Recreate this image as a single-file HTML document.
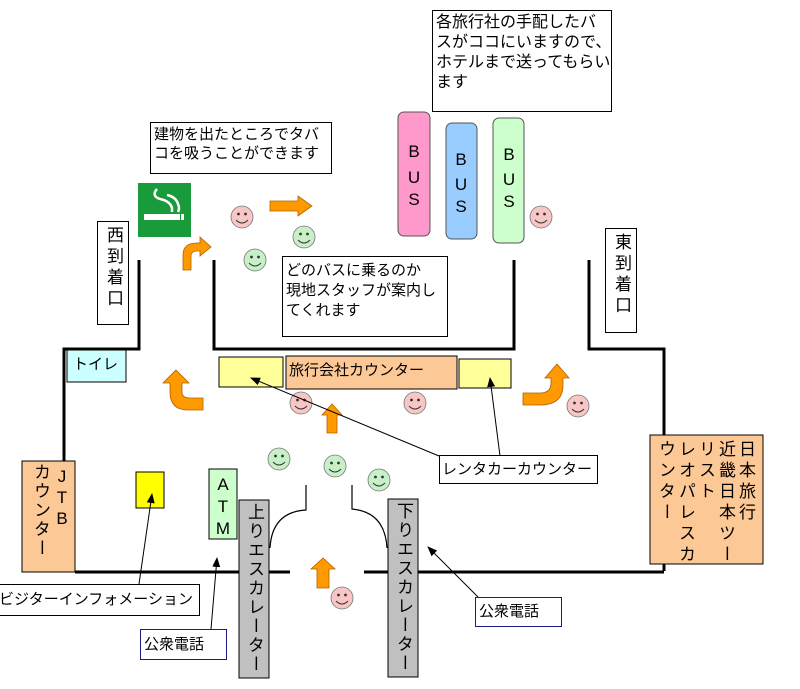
<!DOCTYPE html>
<html><head><meta charset="utf-8"><style>
html,body{margin:0;padding:0;background:#fff;}
#c{position:relative;width:800px;height:689px;overflow:hidden;font-family:"Liberation Sans","Noto Sans CJK JP",sans-serif;color:#000;}
.b{position:absolute;box-sizing:border-box;border:1px solid #000;}
.t{position:absolute;font-size:15px;line-height:20px;white-space:nowrap;}
.v{position:absolute;writing-mode:vertical-rl;font-size:17px;white-space:nowrap;}
svg{position:absolute;left:0;top:0;}
</style></head><body><div id="c">
<svg width="800" height="689" viewBox="0 0 800 689">
<defs><marker id="ah" markerWidth="10" markerHeight="8" refX="9" refY="4" orient="auto" markerUnits="userSpaceOnUse"><path d="M0,0 L10,4 L0,8 Z" fill="#000"/></marker></defs>
<g stroke="#000" stroke-width="3" fill="none">
<polyline points="139,260 139,349 64,349 64,462"/>
<polyline points="214,260 214,349 514,349 514,260"/>
<polyline points="589,260 589,349 664,349 664,571"/>
<line x1="75" y1="572" x2="290" y2="572"/>
<line x1="364" y1="572" x2="664" y2="572"/>
</g>
<g stroke="#000" stroke-width="1.2" fill="none">
<path d="M306,485 L306,510 Q272,512 270,548"/>
<path d="M352,485 L352,509 Q385,512 387,548"/>
</g>
<rect x="138" y="183" width="53" height="54" fill="#1a9b3b"/>
<rect x="144" y="214" width="36" height="6" fill="#fff"/>
<rect x="181" y="214" width="3" height="6" fill="#fff"/>
<g stroke="#fff" stroke-width="2.5" fill="none">
<path d="M157,189 Q151,196 160,199 Q170,201 172,208 L172,212"/>
<path d="M167,195 Q176,197 178,204 Q180,208 178,212"/>
</g>
<g fill="#ff9900" stroke="#b06000" stroke-width="0.8">
<path d="M270,201 L298,201 L298,196 L312,206 L298,216 L298,211 L270,211 Z"/>
<path d="M183,270 L183,255 Q183,243 197,243 L200,243 L200,237 L211,247 L200,256 L200,251 L197,251 Q191,251 191,256 L191,270 Z"/>
<path d="M176,370 L189,383 L182,383 L182,392 Q182,398 190,398 L203,398 L203,410 L188,410 Q170,410 170,392 L170,383 L163,383 Z"/>
<path d="M523,393 L540,393 Q551,393 551,383 L551,378 L545,378 L557,364 L569,378 L563,378 L563,385 Q563,405 540,405 L523,405 Z"/>
<path d="M332,404 L342,415 L337,415 L337,433 L327,433 L327,415 L322,415 Z"/>
<path d="M323,558 L335,569 L329,569 L329,588 L317,588 L317,569 L311,569 Z"/>
</g>
<g stroke="#777" stroke-width="0.8">
<circle cx="242" cy="217" r="11" fill="#f9c6c6"/>
<circle cx="304" cy="237" r="11" fill="#c8f0c8"/>
<circle cx="255" cy="260" r="11" fill="#c8f0c8"/>
<circle cx="541" cy="217" r="11" fill="#f9c6c6"/>
<circle cx="301" cy="403" r="11" fill="#f9c6c6"/>
<circle cx="415" cy="403" r="11" fill="#f9c6c6"/>
<circle cx="578" cy="406" r="11" fill="#f9c6c6"/>
<circle cx="279" cy="459" r="11" fill="#c8f0c8"/>
<circle cx="335" cy="466" r="11" fill="#c8f0c8"/>
<circle cx="379" cy="480" r="11" fill="#c8f0c8"/>
<circle cx="342" cy="598" r="11" fill="#f9c6c6"/>
</g>
<g fill="#333">
<circle cx="238.5" cy="214" r="1.4"/><circle cx="245.5" cy="214" r="1.4"/>
<circle cx="300.5" cy="234" r="1.4"/><circle cx="307.5" cy="234" r="1.4"/>
<circle cx="251.5" cy="257" r="1.4"/><circle cx="258.5" cy="257" r="1.4"/>
<circle cx="537.5" cy="214" r="1.4"/><circle cx="544.5" cy="214" r="1.4"/>
<circle cx="297.5" cy="400" r="1.4"/><circle cx="304.5" cy="400" r="1.4"/>
<circle cx="411.5" cy="400" r="1.4"/><circle cx="418.5" cy="400" r="1.4"/>
<circle cx="574.5" cy="403" r="1.4"/><circle cx="581.5" cy="403" r="1.4"/>
<circle cx="275.5" cy="456" r="1.4"/><circle cx="282.5" cy="456" r="1.4"/>
<circle cx="331.5" cy="463" r="1.4"/><circle cx="338.5" cy="463" r="1.4"/>
<circle cx="375.5" cy="477" r="1.4"/><circle cx="382.5" cy="477" r="1.4"/>
<circle cx="338.5" cy="595" r="1.4"/><circle cx="345.5" cy="595" r="1.4"/>
</g>
<g stroke="#333" stroke-width="1" fill="none">
<path d="M236,220 Q242,226 248,220"/><path d="M298,240 Q304,246 310,240"/>
<path d="M249,263 Q255,269 261,263"/><path d="M535,220 Q541,226 547,220"/>
<path d="M295,406 Q301,412 307,406"/><path d="M409,406 Q415,412 421,406"/>
<path d="M572,409 Q578,415 584,409"/><path d="M273,462 Q279,468 285,462"/>
<path d="M329,469 Q335,475 341,469"/><path d="M373,483 Q379,489 385,483"/>
<path d="M336,601 Q342,607 348,601"/>
</g>
<rect x="398" y="112" width="32" height="124" rx="6" fill="#ff99cc" stroke="#555"/>
<rect x="446" y="123" width="31" height="116" rx="6" fill="#99ccff" stroke="#555"/>
<rect x="493" y="118" width="31" height="125" rx="6" fill="#ccffcc" stroke="#555"/>
<g font-size="17" text-anchor="middle" font-family="Liberation Sans, sans-serif">
<text x="414" y="157">B</text><text x="414" y="183">U</text><text x="414" y="205">S</text>
<text x="461" y="165">B</text><text x="461" y="190">U</text><text x="461" y="212">S</text>
<text x="509" y="160">B</text><text x="509" y="185">U</text><text x="509" y="207">S</text>
</g>
<rect x="219" y="357" width="64" height="30" fill="#ffff99" stroke="#000"/>
<rect x="459" y="359" width="52" height="29" fill="#ffff99" stroke="#000"/>
<rect x="286" y="356" width="171" height="33" fill="#fcc896" stroke="#000"/>
<rect x="136" y="472" width="28" height="36" fill="#ffff00" stroke="#000"/>
<rect x="209" y="469" width="28" height="70" fill="#ccffcc" stroke="#000"/>
<rect x="239" y="500" width="30" height="178" fill="#c0c0c0" stroke="#000"/>
<rect x="388" y="499" width="30" height="178" fill="#c0c0c0" stroke="#000"/>
<rect x="22" y="461" width="53" height="111" fill="#fcc896" stroke="#000"/>
<rect x="650" y="435" width="113" height="129" fill="#fcc896" stroke="#000"/>
<rect x="67" y="350" width="59" height="32" fill="#ccffff" stroke="#000"/>
<g stroke="#000" stroke-width="1" marker-end="url(#ah)">
<line x1="500" y1="456" x2="490" y2="378"/>
<line x1="439" y1="456" x2="251" y2="378"/>
<line x1="139" y1="584" x2="152" y2="494"/>
<line x1="211" y1="629" x2="217" y2="558"/>
<line x1="478" y1="597" x2="428" y2="547"/>
</g>
<g font-size="17" text-anchor="middle" font-family="Liberation Sans, sans-serif">
<text x="223" y="490">A</text><text x="223" y="512">T</text><text x="223" y="534">M</text>
<text x="62" y="482">J</text><text x="62" y="503">T</text><text x="62" y="524">B</text>
</g>
</svg>
<div class="b t" style="left:432px;top:10px;width:180px;height:102px;padding:2px 3px;background:#fff;font-size:16px;">各旅行社の手配したバ<br>スがココにいますので、<br>ホテルまで送ってもらい<br>ます</div>
<div class="b t" style="left:150px;top:122px;width:182px;height:52px;padding:2px 3px;background:#fff;line-height:19px;">建物を出たところでタバ<br>コを吸うことができます</div>
<div class="b t" style="left:282px;top:256px;width:166px;height:81px;padding:4px 3px;background:#fff;">どのバスに乗るのか<br>現地スタッフが案内し<br>てくれます</div>
<div class="b" style="left:97px;top:221px;width:32px;height:104px;background:#fff;"></div>
<div class="v" style="left:103px;top:226px;letter-spacing:4px;line-height:20px;">西到着口</div>
<div class="b" style="left:605px;top:228px;width:32px;height:105px;background:#fff;"></div>
<div class="v" style="left:611px;top:233px;letter-spacing:4px;line-height:20px;">東到着口</div>
<div class="t" style="left:73px;top:355px;font-size:15px;">トイレ</div>
<div class="t" style="left:289px;top:361px;font-size:15px;">旅行会社カウンター</div>
<div class="v" style="left:30px;top:463px;letter-spacing:2px;line-height:20px;">カウンター</div>
<div class="v" style="left:655px;top:440px;line-height:20px;letter-spacing:4px;font-size:17px;">日本旅行<br>近畿日本ツー<br>リスト<br>レオパレスカ<br>ウンター</div>
<div class="v" style="left:244px;top:503px;letter-spacing:2px;line-height:20px;font-size:17px;">上りエスカレーター</div>
<div class="v" style="left:393px;top:502px;letter-spacing:2px;line-height:20px;font-size:17px;">下りエスカレーター</div>
<div class="b t" style="left:439px;top:455px;width:159px;height:29px;padding:4px 2px;background:#fff;">レンタカーカウンター</div>
<div class="b t" style="left:-2px;top:584px;width:202px;height:32px;padding:5px 0 0 0;background:#fff;">ビジターインフォメーション</div>
<div class="b t" style="left:140px;top:629px;width:87px;height:31px;padding:5px 3px;background:#fff;border-color:#1a1a80;">公衆電話</div>
<div class="b t" style="left:475px;top:597px;width:87px;height:30px;padding:4px 3px;background:#fff;border-color:#1a1a80;">公衆電話</div>
</div></body></html>
